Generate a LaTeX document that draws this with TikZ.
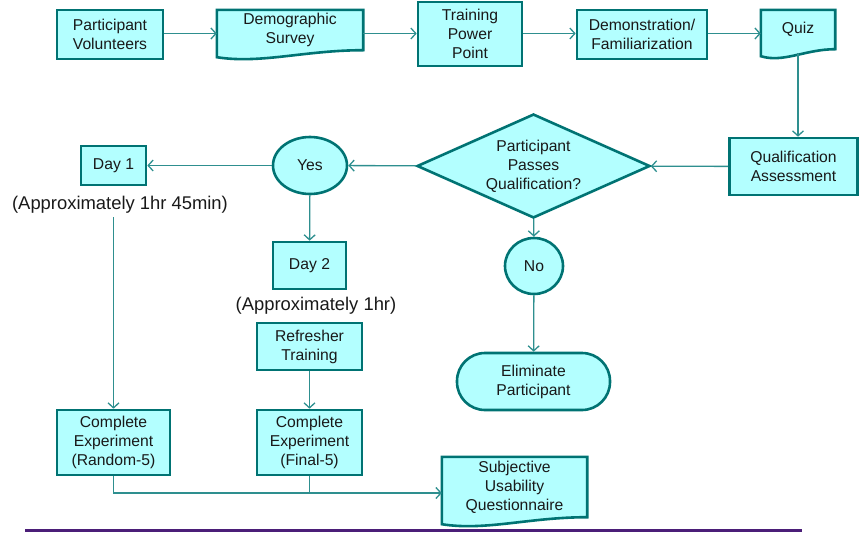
\documentclass[tikz,border=0pt]{standalone}
\usepackage{fontspec}
\setmainfont{Liberation Sans}
\usetikzlibrary{shapes.geometric,arrows.meta,calc,backgrounds}

\definecolor{boxfill}{HTML}{B3FFFF}
\definecolor{boxedge}{HTML}{007373}
\definecolor{flowline}{HTML}{2E8F8F}
\definecolor{rulepurple}{HTML}{4B1E78}

% document shape drawn behind a plain node
\newcommand{\docshape}[1]{%
  \begin{pgfonlayer}{background}
  \draw[docedge] (#1.north west) -- (#1.north east) -- (#1.south east)
    .. controls ($(#1.south east)!0.4!(#1.south west)$)
           and ($(#1.south west)!0.3!(#1.south east)+(0pt,-14pt)$)
    .. ([yshift=-7pt]#1.south west) -- cycle;
  \end{pgfonlayer}}

\tikzset{
  txt/.style={font=\fontsize{15.7}{19}\selectfont, align=center, text=black!90},
  box/.style={txt, rectangle, draw=boxedge, fill=boxfill, line width=2.6pt, inner sep=0pt},
  doc/.style={txt, rectangle, inner sep=0pt},
  docedge/.style={draw=boxedge, fill=boxfill, line width=2.6pt},
  decision/.style={txt, diamond, aspect=2.24, draw=boxedge, fill=boxfill, line width=2.6pt, inner sep=0pt},
  answer/.style={txt, ellipse, draw=boxedge, fill=boxfill, line width=2.6pt, inner sep=0pt},
  terminal/.style={txt, rectangle, rounded corners=28pt, draw=boxedge, fill=boxfill, line width=2.6pt, inner sep=0pt},
  note/.style={font=\fontsize{18.4}{21}\selectfont, text=black!90},
  arr/.style={draw=flowline, line width=1.3pt, -{Straight Barb[length=5pt,width=11pt]}},
  ln/.style={draw=flowline, line width=1.3pt}
}

\begin{document}
\begin{tikzpicture}[x=1pt, y=-1pt]
\useasboundingbox (0,0) rectangle (859,533);

% top row
\node[box, minimum width=106pt, minimum height=49pt] (vol)   at (110,34.5)  {Participant\\Volunteers};
\node[doc, minimum width=146pt, minimum height=40pt] (demo)  at (290,30)    {Demographic\\Survey};
\node[box, minimum width=104pt, minimum height=64pt] (train) at (470,34)    {Training\\Power\\Point};
\node[box, minimum width=130pt, minimum height=49pt] (fam)   at (642,34.5)  {Demonstration/\\Familiarization};
\node[doc, minimum width=74pt,  minimum height=39pt] (quiz)  at (798,29.5)  {Quiz};
\docshape{demo}
\docshape{quiz}

% decision row
\node[box, minimum width=128pt, minimum height=57pt] (qual)  at (793.5,166.5) {Qualification\\Assessment};
\node[decision, minimum width=233pt, minimum height=104pt] (pass) at (533.5,166) {Participant\\Passes\\Qualification?};
\node[answer, minimum width=74pt, minimum height=57pt] (yes) at (310,165.5) {Yes};
\node[box, minimum width=65pt, minimum height=39pt] (dayone) at (113.5,165.5) {Day 1};
\node[note] (dayonenote) at (120,205) {(Approximately 1hr 45min)};

% day 2 branch
\node[box, minimum width=73pt, minimum height=47pt] (daytwo) at (309.5,265.5) {Day 2};
\node[note] (daytwonote) at (316,306) {(Approximately 1hr)};
\node[box, minimum width=105pt, minimum height=47pt] (refresh) at (309.5,346.5) {Refresher\\Training};

% no branch
\node[answer, minimum width=58pt, minimum height=56pt] (no) at (534,266) {No};
\node[terminal, minimum width=153pt, minimum height=57pt] (elim) at (533.5,381.5) {Eliminate\\Participant};

% experiments
\node[box, minimum width=113pt, minimum height=65pt] (cerand) at (113.5,442.5) {Complete\\Experiment\\(Random-5)};
\node[box, minimum width=105pt, minimum height=65pt] (cefin)  at (309.5,442.5) {Complete\\Experiment\\(Final-5)};
\node[doc, minimum width=145pt, minimum height=60pt] (survey) at (514.5,487) {Subjective\\Usability\\Questionnaire};
\docshape{survey}

\coordinate (toprow) at (0,33.5);
\path[arr] (vol.east |- toprow)   -- (demo.west |- toprow);
\path[arr] (demo.east |- toprow)  -- (train.west |- toprow);
\path[arr] (train.east |- toprow) -- (fam.west |- toprow);
\path[arr] (fam.east |- toprow)   -- (quiz.west |- toprow);
\path[arr] ([yshift=-4pt]quiz.south) -- (quiz.south |- qual.north);
\path[arr] (qual)  -- (pass);
\path[arr] (pass)  -- (yes);
\path[arr] (yes)   -- (dayone);
\path[arr] (yes)   -- (daytwo);
\path[arr] (pass)  -- (no);
\path[arr] (no)    -- (elim);
\path[arr] (dayone |- dayonenote.south) -- (cerand);
\path[arr] (refresh) -- (cefin);

\coordinate (join) at ([yshift=-6pt]survey.west);
\path[arr] (cerand.south) |- (join);
\path[ln]  (cefin.south) -- (cefin.south |- join);

% rule along the bottom
\coordinate (ruleleft)  at (25,530.5);
\coordinate (ruleright) at (802,530.5);
\draw[rulepurple, line width=3pt] (ruleleft) -- (ruleright);
\end{tikzpicture}
\end{document}
